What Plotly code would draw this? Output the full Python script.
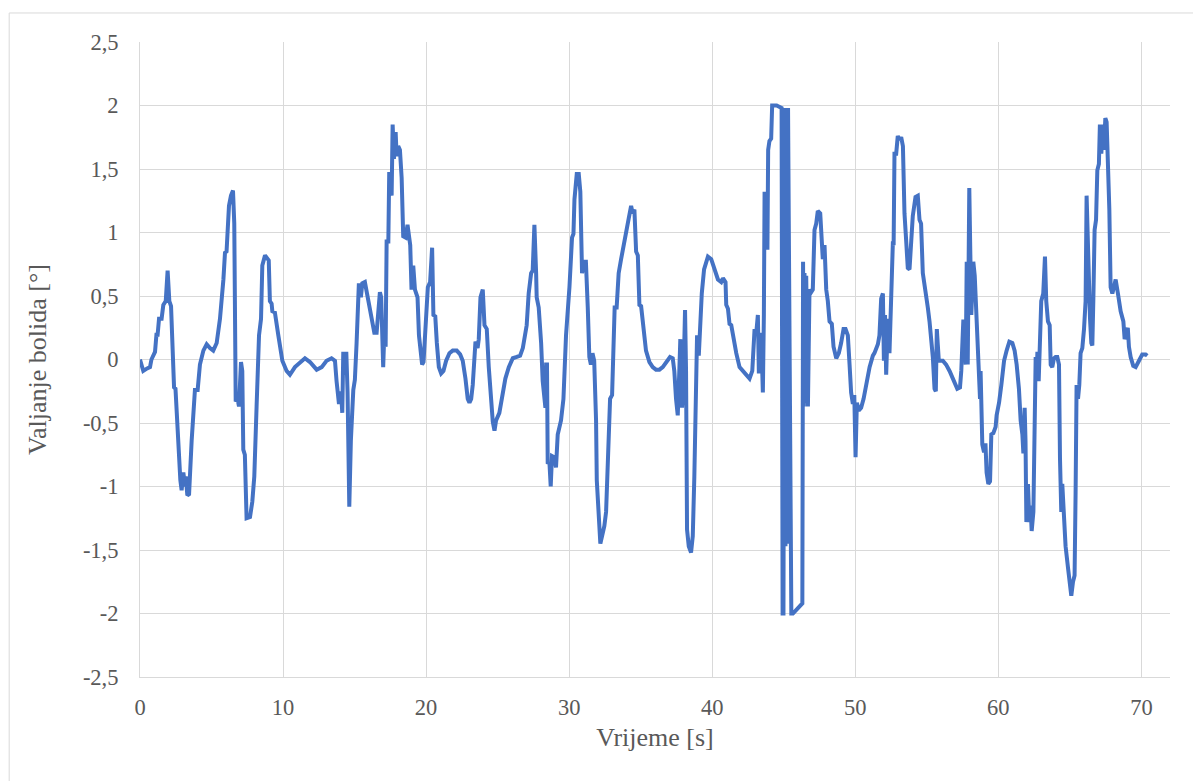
import plotly.graph_objects as go

# vrijeme [s] i valjanje bolida [°], očitano po segmentima od 10 s
t_00 = [0, 0.23, 0.5, 0.7, 0.8, 1.05, 1.16, 1.22, 1.33, 1.51,
        1.63, 1.8, 1.93, 2.05, 2.17, 2.28, 2.38, 2.48, 2.59, 2.68,
        2.82, 2.91, 3.03, 3.15, 3.2, 3.31, 3.43, 3.61, 3.84, 4.03,
        4.19, 4.43, 4.66, 4.89, 5.12, 5.36, 5.59, 5.83, 5.94, 6.05,
        6.13, 6.22, 6.36, 6.5, 6.59, 6.69, 6.82, 6.92, 7.06, 7.15,
        7.22, 7.33, 7.45, 7.69, 7.85, 7.99, 8.15, 8.32, 8.46, 8.55,
        8.74, 8.85, 9.0, 9.08, 9.2, 9.25, 9.43, 9.67, 9.95]
roll_00 = [0.0, -0.09, -0.07, -0.06, 0.0, 0.06, 0.21, 0.18, 0.32, 0.32,
           0.43, 0.46, 0.70, 0.46, 0.42, 0.02, -0.22, -0.23, -0.48, -0.75,
           -0.95, -1.03, -0.89, -1.0, -0.92, -1.07, -1.06, -0.64, -0.24, -0.24,
           -0.04, 0.07, 0.12, 0.09, 0.07, 0.13, 0.32, 0.63, 0.84, 0.85,
           1.02, 1.21, 1.29, 1.33, 1.07, -0.33, -0.31, -0.37, -0.02, -0.09,
           -0.71, -0.75, -1.25, -1.24, -1.12, -0.92, -0.37, 0.19, 0.32, 0.74,
           0.82, 0.80, 0.78, 0.46, 0.44, 0.38, 0.37, 0.19, -0.01]

t_10 = [10.25, 10.48, 10.83, 11.18, 11.53, 11.88, 12.35, 12.7, 13.04, 13.39,
        13.63, 13.74, 13.91, 14.05, 14.14, 14.21, 14.3, 14.42, 14.51, 14.63,
        14.74, 14.91, 15.02, 15.14, 15.26, 15.3, 15.44, 15.54, 15.72, 15.96,
        16.19, 16.38, 16.54, 16.66, 16.77, 16.86, 16.93, 17.0, 17.07, 17.17,
        17.24, 17.36, 17.42, 17.54, 17.59, 17.66, 17.75, 17.87, 17.94, 18.05,
        18.17, 18.29, 18.4, 18.57, 18.7, 18.8, 18.89, 18.98, 19.1, 19.22,
        19.4, 19.5, 19.64, 19.72, 19.82, 19.95]
roll_10 = [-0.09, -0.12, -0.06, -0.02, 0.01, -0.02, -0.08, -0.06, -0.01, 0.01,
           -0.01, -0.17, -0.35, -0.25, -0.42, 0.06, -0.12, 0.06, -0.26, -1.16,
           -0.64, -0.24, -0.16, 0.13, 0.42, 0.60, 0.49, 0.60, 0.61, 0.46,
           0.30, 0.21, 0.21, 0.35, 0.53, 0.49, 0.13, -0.06, 0.18, 0.10,
           0.93, 0.93, 1.46, 1.46, 1.29, 1.85, 1.58, 1.79, 1.60, 1.68,
           1.65, 1.43, 0.97, 0.96, 1.06, 0.96, 0.90, 0.55, 0.74, 0.55,
           0.49, 0.19, 0.02, -0.04, -0.02, 0.24]

t_20 = [20.12, 20.28, 20.42, 20.51, 20.64, 20.75, 20.89, 21.05, 21.21, 21.4,
        21.63, 21.86, 22.14, 22.38, 22.56, 22.75, 22.91, 23.03, 23.15, 23.26,
        23.38, 23.45, 23.6, 23.68, 23.8, 23.96, 24.08, 24.24, 24.38, 24.54,
        24.66, 24.78, 24.89, 25.12, 25.31, 25.54, 25.78, 26.06, 26.34, 26.57,
        26.76, 26.94, 27.03, 27.17, 27.34, 27.45, 27.57, 27.69, 27.73, 27.87,
        28.04, 28.15, 28.27, 28.34, 28.39, 28.45, 28.5, 28.62, 28.71, 28.8,
        28.96, 29.08, 29.2, 29.43, 29.6, 29.78]
roll_20 = [0.57, 0.61, 0.88, 0.35, 0.34, 0.13, -0.06, -0.11, -0.09, -0.01,
           0.05, 0.07, 0.07, 0.04, -0.01, -0.15, -0.31, -0.34, -0.31, -0.20,
           0.02, 0.14, 0.09, 0.16, 0.49, 0.55, 0.27, 0.24, -0.06, -0.31,
           -0.49, -0.56, -0.48, -0.42, -0.29, -0.15, -0.06, 0.01, 0.02, 0.03,
           0.09, 0.19, 0.27, 0.52, 0.68, 0.70, 1.06, 0.68, 0.49, 0.41,
           0.13, -0.17, -0.29, -0.38, -0.04, -0.04, -0.82, -0.81, -1.0, -0.76,
           -0.77, -0.85, -0.59, -0.48, -0.31, 0.19]

t_30 = [30.02, 30.2, 30.3, 30.37, 30.53, 30.67, 30.78, 30.9, 31.06, 31.17,
        31.3, 31.41, 31.52, 31.63, 31.75, 31.88, 31.93, 32.1, 32.18, 32.3,
        32.46, 32.58, 32.7, 32.86, 33.0, 33.09, 33.18, 33.32, 33.46, 33.63,
        33.79, 33.98, 34.16, 34.33, 34.44, 34.56, 34.68, 34.8, 34.91, 35.03,
        35.19, 35.37, 35.61, 35.84, 36.07, 36.31, 36.54, 36.82, 37.05, 37.24,
        37.35, 37.47, 37.59, 37.7, 37.77, 37.89, 37.98, 38.1, 38.17, 38.24,
        38.36, 38.52, 38.64, 38.75, 38.87, 38.94, 39.06, 39.13, 39.27, 39.43,
        39.59, 39.7, 39.93]
roll_30 = [0.57, 0.96, 0.99, 1.26, 1.46, 1.46, 1.32, 0.68, 0.77, 0.77,
           0.41, 0.02, -0.04, 0.05, -0.01, -0.48, -0.95, -1.28, -1.45, -1.39,
           -1.31, -1.20, -0.78, -0.31, -0.28, 0.07, 0.41, 0.41, 0.68, 0.79,
           0.90, 1.02, 1.11, 1.21, 1.15, 1.18, 0.85, 0.82, 0.43, 0.42,
           0.24, 0.07, -0.02, -0.06, -0.08, -0.08, -0.06, -0.02, 0.02, 0.01,
           -0.09, -0.31, -0.44, -0.09, 0.16, -0.38, -0.20, 0.39, -0.09, -1.34,
           -1.47, -1.52, -1.39, -0.92, -0.37, 0.19, 0.03, 0.19, 0.52, 0.71,
           0.79, 0.81, 0.79]

t_40 = [40.16, 40.4, 40.63, 40.75, 40.93, 40.98, 41.1, 41.21, 41.33, 41.44,
        41.68, 41.91, 42.14, 42.38, 42.61, 42.8, 42.89, 42.96, 43.08, 43.19,
        43.26, 43.35, 43.44, 43.54, 43.61, 43.66, 43.77, 43.86, 43.91, 44.0,
        44.12, 44.19, 44.5, 44.85, 44.92, 44.98, 45.05, 45.12, 45.18, 45.25,
        45.3, 45.38, 45.45, 45.53, 45.64, 46.3, 46.35, 46.4, 46.45, 46.52,
        46.57, 46.69, 46.8, 46.92, 47.03, 47.15, 47.27, 47.38, 47.55, 47.66,
        47.73, 47.85, 47.97, 48.08, 48.2, 48.36, 48.48, 48.67, 48.85, 49.01,
        49.18, 49.32, 49.48, 49.6, 49.71, 49.83, 49.93]
roll_40 = [0.71, 0.63, 0.61, 0.64, 0.61, 0.43, 0.40, 0.28, 0.27, 0.19,
           0.05, -0.06, -0.09, -0.12, -0.15, -0.09, 0.07, 0.24, 0.21, 0.35,
           -0.11, 0.21, 0.13, -0.26, 0.35, 1.32, 0.88, 0.88, 1.65, 1.72,
           1.74, 2.0, 2.0, 1.98, -2.0, -2.0, 1.98, -1.47, 1.98, -1.45,
           1.98, 0.57, -1.47, -2.0, -2.0, -1.92, 0.77, -0.37, 0.68, -0.34,
           0.66, -0.37, 0.55, 0.53, 0.55, 1.02, 1.07, 1.17, 1.15, 0.90,
           0.79, 0.90, 0.55, 0.46, 0.30, 0.28, 0.10, 0.01, 0.05, 0.13,
           0.24, 0.24, 0.19, -0.04, -0.26, -0.35, -0.28]

t_50 = [50.02, 50.11, 50.25, 50.41, 50.58, 50.76, 51.0, 51.23, 51.34, 51.58,
        51.69, 51.81, 51.93, 52.0, 52.08, 52.16, 52.28, 52.39, 52.51, 52.63,
        52.68, 52.74, 52.86, 52.97, 53.09, 53.21, 53.33, 53.44, 53.56, 53.67,
        53.79, 53.91, 54.02, 54.21, 54.37, 54.49, 54.6, 54.72, 54.91, 55.07,
        55.19, 55.3, 55.42, 55.54, 55.63, 55.7, 55.77, 55.84, 56.12, 56.35,
        56.59, 56.82, 57.13, 57.32, 57.41, 57.55, 57.63, 57.72, 57.79, 57.86,
        57.9, 57.97, 58.11, 58.18, 58.25, 58.35, 58.44, 58.53, 58.65, 58.72,
        58.76, 58.81, 58.88, 59.0, 59.1, 59.18, 59.3, 59.42, 59.51, 59.65,
        59.81, 59.88]
roll_50 = [-0.77, -0.34, -0.40, -0.38, -0.31, -0.20, -0.06, 0.03, 0.05, 0.12,
           0.19, 0.48, 0.52, -0.01, 0.35, -0.12, 0.32, 0.05, 0.60, 0.93,
           0.90, 1.62, 1.62, 1.76, 1.73, 1.75, 1.68, 1.15, 0.93, 0.72,
           0.71, 0.93, 1.13, 1.28, 1.29, 1.10, 1.07, 0.68, 0.55, 0.41,
           0.30, 0.19, 0.02, -0.23, -0.25, 0.24, 0.13, -0.01, -0.01, -0.04,
           -0.09, -0.15, -0.23, -0.22, -0.09, 0.30, 0.30, -0.04, 0.77, -0.04,
           0.35, 1.35, 0.35, 0.77, 0.77, 0.66, 0.46, 0.19, -0.09, -0.31,
           -0.09, -0.49, -0.67, -0.73, -0.66, -0.89, -0.98, -0.96, -0.59, -0.58,
           -0.53, -0.44]

t_60 = [60.05, 60.21, 60.4, 60.58, 60.77, 60.98, 61.14, 61.28, 61.44, 61.56,
        61.68, 61.75, 61.84, 61.9, 61.96, 62.07, 62.17, 62.25, 62.33, 62.45,
        62.54, 62.61, 62.68, 62.73, 62.82, 62.91, 63.0, 63.07, 63.14, 63.26,
        63.35, 63.47, 63.59, 63.66, 63.77, 63.89, 64.0, 64.12, 64.24, 64.31,
        64.4, 64.47, 64.59, 64.7, 64.87, 64.98, 65.1, 65.22, 65.33, 65.4,
        65.47, 65.57, 65.66, 65.75, 65.87, 65.99, 66.1, 66.17, 66.29, 66.41,
        66.5, 66.57, 66.64, 66.73, 66.83, 66.92, 67.03, 67.1, 67.2, 67.31,
        67.38, 67.48, 67.57, 67.66, 67.76, 67.85, 67.97, 68.08, 68.2, 68.36,
        68.55, 68.74, 68.83, 68.97, 69.05, 69.13, 69.25, 69.43, 69.6, 69.83,
        70.06, 70.3, 70.41]
roll_60 = [-0.34, -0.20, -0.01, 0.07, 0.14, 0.13, 0.07, -0.04, -0.23, -0.48,
           -0.59, -0.74, -0.38, -0.64, -1.28, -0.98, -1.28, -1.15, -1.35, -1.20,
           -0.64, 0.02, -0.15, 0.06, -0.17, 0.19, 0.46, 0.49, 0.52, 0.81,
           0.46, 0.30, 0.27, -0.04, -0.06, 0.01, 0.02, 0.02, -0.04, -0.78,
           -1.20, -0.98, -1.34, -1.47, -1.64, -1.78, -1.86, -1.75, -1.70, -1.06,
           -0.20, -0.31, -0.20, 0.05, 0.09, 0.24, 0.46, 1.29, 0.74, 0.32,
           0.13, 0.11, 0.46, 1.02, 1.10, 1.49, 1.54, 1.85, 1.62, 1.85,
           1.65, 1.90, 1.87, 1.57, 1.18, 0.57, 0.52, 0.57, 0.63, 0.52,
           0.38, 0.30, 0.16, 0.21, 0.25, 0.10, 0.02, -0.05, -0.06, -0.01,
           0.04, 0.04, 0.03]

x_ticks = [0, 10, 20, 30, 40, 50, 60, 70]
y_ticks = [-2.5, -2, -1.5, -1, -0.5, 0, 0.5, 1, 1.5, 2, 2.5]
y_labels = ["-2,5", "-2", "-1,5", "-1", "-0,5", "0", "0,5", "1", "1,5", "2", "2,5"]

t = t_00 + t_10 + t_20 + t_30 + t_40 + t_50 + t_60
roll = roll_00 + roll_10 + roll_20 + roll_30 + roll_40 + roll_50 + roll_60

font_fam = "Liberation Serif"
txt = "#595959"
grid = "#D9D9D9"

fig = go.Figure()
fig.add_trace(go.Scatter(
    x=t, y=roll,
    mode="lines",
    line=dict(color="#4472C4", width=4),
    showlegend=False,
))

# stranica ima 8px margine tijela, pa je figura za toliko manja
fig.update_layout(
    width=1193, height=773,
    margin=dict(l=132, r=31, t=34, b=104),
    paper_bgcolor="white",
    plot_bgcolor="white",
    font=dict(family=font_fam, color=txt, size=22),
    # okvir grafikona kao u Excelu
    shapes=[dict(
        type="rect", xref="paper", yref="paper",
        x0=-0.127, x1=1.05, y0=-0.2, y1=1.0457,
        line=dict(color=grid, width=1), fillcolor="rgba(0,0,0,0)",
        layer="below",
    )],
)

fig.update_xaxes(
    range=[0, 72],
    tickvals=x_ticks,
    showgrid=True, gridcolor=grid, gridwidth=1,
    zeroline=False,
    showline=True, linecolor=grid, linewidth=1,
    ticks="",
    ticklabelstandoff=10,
    tickfont=dict(family=font_fam, size=22.5, color=txt),
    title=dict(text="Vrijeme [s]", font=dict(family=font_fam, size=26, color=txt), standoff=8),
)
fig.update_yaxes(
    range=[-2.5, 2.5],
    tickvals=y_ticks, ticktext=y_labels,
    showgrid=True, gridcolor=grid, gridwidth=1,
    zeroline=False,
    showline=True, linecolor=grid, linewidth=1,
    ticks="",
    ticklabelstandoff=16,
    tickfont=dict(family=font_fam, size=22.5, color=txt),
    title=dict(text="Valjanje bolida [°]", font=dict(family=font_fam, size=26, color=txt), standoff=28),
)

fig.write_html("out.html", config={"displayModeBar": False})
